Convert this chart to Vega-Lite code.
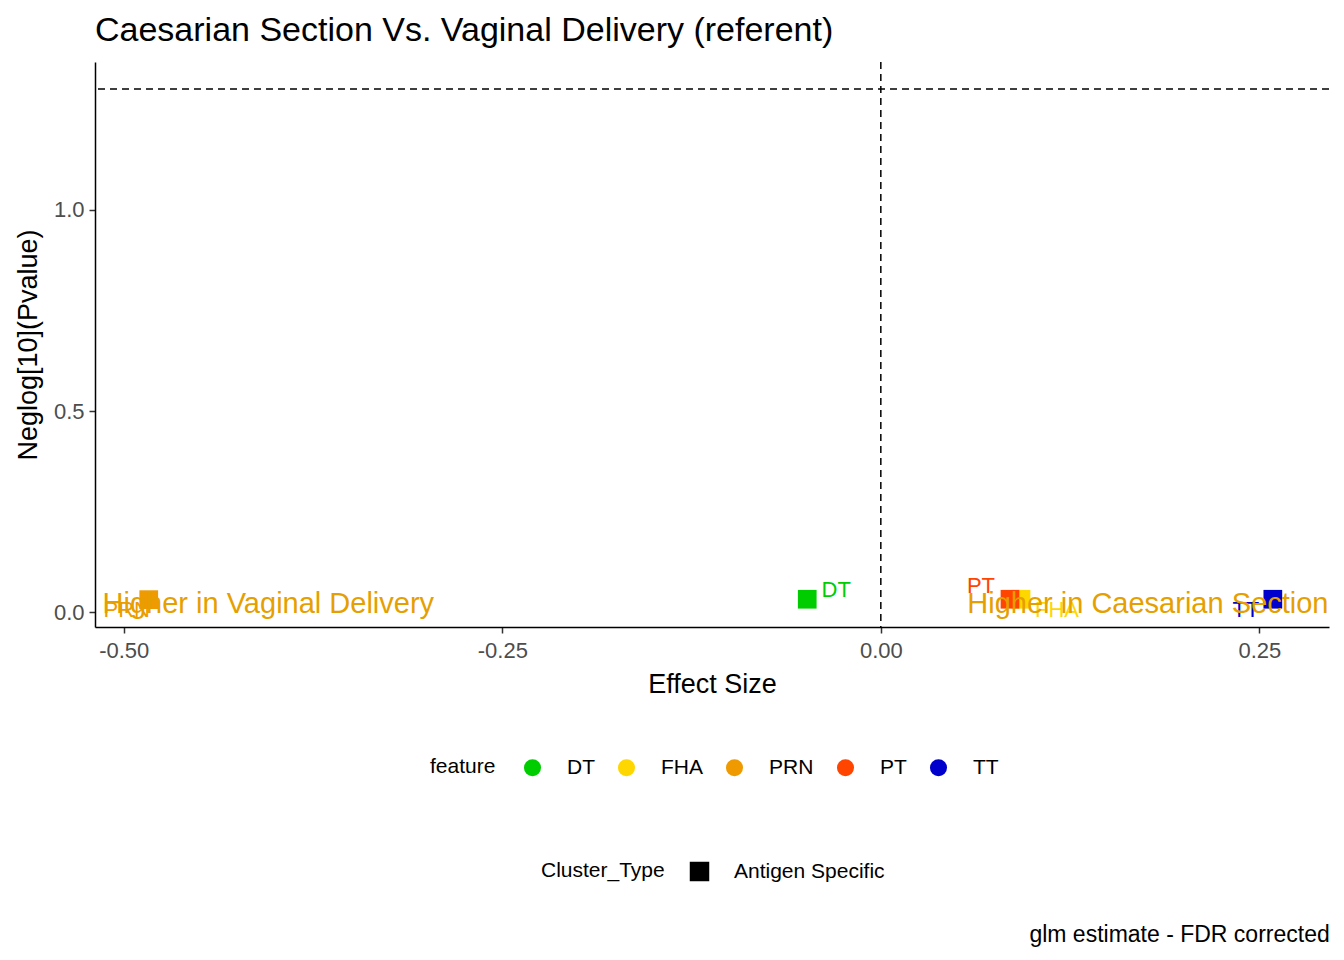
{
  "$schema": "https://vega.github.io/schema/vega-lite/v6.json",
  "background": "white",
  "padding": {"left": 14, "top": 14, "right": 14, "bottom": 10},
  "title": {
    "text": "glm estimate - FDR corrected",
    "orient": "bottom",
    "anchor": "end",
    "fontSize": 23,
    "fontWeight": "normal",
    "color": "black",
    "offset": 42
  },
  "vconcat": [
    {
      "width": 1234,
      "height": 565,
      "title": {
        "text": "Caesarian Section Vs. Vaginal Delivery (referent)",
        "anchor": "start",
        "frame": "group",
        "fontSize": 34,
        "fontWeight": "normal",
        "color": "black",
        "offset": 13
      },
      "data": {
        "values": [
          {"feature": "PRN", "Cluster_Type": "Antigen Specific", "effect": -0.4835, "neglog10p": 0.031},
          {"feature": "DT", "Cluster_Type": "Antigen Specific", "effect": -0.0486, "neglog10p": 0.032},
          {"feature": "FHA", "Cluster_Type": "Antigen Specific", "effect": 0.0926, "neglog10p": 0.032},
          {"feature": "PT", "Cluster_Type": "Antigen Specific", "effect": 0.0853, "neglog10p": 0.032},
          {"feature": "TT", "Cluster_Type": "Antigen Specific", "effect": 0.2589, "neglog10p": 0.032}
        ]
      },
      "layer": [
        {
          "data": {"values": [{}]},
          "mark": {"type": "rule", "strokeDash": [7, 5], "strokeWidth": 1.5, "color": "black"},
          "encoding": {"y": {"datum": 1.30103, "type": "quantitative"}}
        },
        {
          "data": {"values": [{}]},
          "mark": {"type": "rule", "strokeDash": [7, 5], "strokeWidth": 1.5, "color": "black"},
          "encoding": {"x": {"datum": 0, "type": "quantitative"}}
        },
        {
          "mark": {"type": "point", "filled": true, "opacity": 1, "size": 350},
          "encoding": {
            "x": {
              "field": "effect",
              "type": "quantitative",
              "title": "Effect Size",
              "scale": {"domain": [-0.519, 0.296], "nice": false, "zero": false},
              "axis": {
                "values": [-0.5, -0.25, 0, 0.25],
                "format": ".2f",
                "labelExpr": "replace(datum.label, '−', '-')",
                "labelPadding": 7,
                "titlePadding": 10
              }
            },
            "y": {
              "field": "neglog10p",
              "type": "quantitative",
              "title": "Neglog[10](Pvalue)",
              "scale": {"domain": [-0.037, 1.368], "nice": false, "zero": false},
              "axis": {
                "values": [0, 0.5, 1],
                "format": ".1f",
                "labelPadding": 5,
                "titlePadding": 11
              }
            },
            "color": {
              "field": "feature",
              "type": "nominal",
              "scale": {
                "domain": ["DT", "FHA", "PRN", "PT", "TT"],
                "range": ["#00CD00", "#FFD700", "#EE9A00", "#FF4500", "#0000CD"]
              },
              "legend": {
                "title": "feature",
                "orient": "none",
                "legendX": 335,
                "legendY": 695,
                "direction": "horizontal",
                "titleOrient": "left",
                "titlePadding": 26,
                "symbolType": "circle",
                "symbolSize": 290,
                "symbolStrokeWidth": 0,
                "labelOffset": 24,
                "columnPadding": 21,
                "labelFontSize": 21,
                "titleFontSize": 21,
                "titleFontWeight": "normal",
                "labelColor": "black",
                "titleColor": "black"
              }
            },
            "shape": {
              "field": "Cluster_Type",
              "type": "nominal",
              "scale": {"range": ["square"]},
              "legend": {
                "title": "Cluster_Type",
                "orient": "none",
                "legendX": 446,
                "legendY": 799,
                "direction": "horizontal",
                "titleOrient": "left",
                "titlePadding": 24,
                "symbolSize": 380,
                "symbolFillColor": "black",
                "symbolStrokeColor": "black",
                "symbolStrokeWidth": 0,
                "labelOffset": 24,
                "labelFontSize": 21,
                "titleFontSize": 21,
                "titleFontWeight": "normal",
                "labelColor": "black",
                "titleColor": "black"
              }
            }
          }
        },
        {
          "transform": [{"filter": "datum.feature == 'PRN'"}],
          "mark": {"type": "text", "fontSize": 22, "align": "center", "baseline": "alphabetic", "dx": -22, "dy": 17},
          "encoding": {
            "x": {"field": "effect", "type": "quantitative"},
            "y": {"field": "neglog10p", "type": "quantitative"},
            "text": {"field": "feature"},
            "color": {"field": "feature", "type": "nominal"}
          }
        },
        {
          "transform": [{"filter": "datum.feature == 'DT'"}],
          "mark": {"type": "text", "fontSize": 22, "align": "center", "baseline": "alphabetic", "dx": 29, "dy": -2},
          "encoding": {
            "x": {"field": "effect", "type": "quantitative"},
            "y": {"field": "neglog10p", "type": "quantitative"},
            "text": {"field": "feature"},
            "color": {"field": "feature", "type": "nominal"}
          }
        },
        {
          "transform": [{"filter": "datum.feature == 'PT'"}],
          "mark": {"type": "text", "fontSize": 22, "align": "center", "baseline": "alphabetic", "dx": -29, "dy": -6},
          "encoding": {
            "x": {"field": "effect", "type": "quantitative"},
            "y": {"field": "neglog10p", "type": "quantitative"},
            "text": {"field": "feature"},
            "color": {"field": "feature", "type": "nominal"}
          }
        },
        {
          "transform": [{"filter": "datum.feature == 'FHA'"}],
          "mark": {"type": "text", "fontSize": 22, "align": "center", "baseline": "alphabetic", "dx": 36, "dy": 18},
          "encoding": {
            "x": {"field": "effect", "type": "quantitative"},
            "y": {"field": "neglog10p", "type": "quantitative"},
            "text": {"field": "feature"},
            "color": {"field": "feature", "type": "nominal"}
          }
        },
        {
          "transform": [{"filter": "datum.feature == 'TT'"}],
          "mark": {"type": "text", "fontSize": 22, "align": "center", "baseline": "alphabetic", "dx": -27, "dy": 18},
          "encoding": {
            "x": {"field": "effect", "type": "quantitative"},
            "y": {"field": "neglog10p", "type": "quantitative"},
            "text": {"field": "feature"},
            "color": {"field": "feature", "type": "nominal"}
          }
        },
        {
          "data": {"values": [{"note": "Higher in Vaginal Delivery"}]},
          "mark": {"type": "text", "fontSize": 29, "align": "left", "baseline": "alphabetic", "color": "#E69F00", "dy": 1},
          "encoding": {
            "x": {"datum": -0.514, "type": "quantitative"},
            "y": {"datum": 0, "type": "quantitative"},
            "text": {"field": "note"}
          }
        },
        {
          "data": {"values": [{"note": "Higher in Caesarian Section"}]},
          "mark": {"type": "text", "fontSize": 29, "align": "right", "baseline": "alphabetic", "color": "#E69F00", "dy": 1},
          "encoding": {
            "x": {"datum": 0.2956, "type": "quantitative"},
            "y": {"datum": 0, "type": "quantitative"},
            "text": {"field": "note"}
          }
        }
      ]
    }
  ],
  "config": {
    "font": "Liberation Sans",
    "view": {"stroke": null},
    "axis": {
      "grid": false,
      "domainColor": "black",
      "domainWidth": 1.5,
      "tickColor": "#333333",
      "tickWidth": 1.5,
      "tickSize": 6,
      "labelColor": "#4D4D4D",
      "labelFontSize": 22,
      "labelFont": "Liberation Sans",
      "titleFont": "Liberation Sans",
      "titleFontSize": 27,
      "titleFontWeight": "normal",
      "titleColor": "black"
    },
    "legend": {
      "labelFont": "Liberation Sans",
      "titleFont": "Liberation Sans"
    }
  }
}
